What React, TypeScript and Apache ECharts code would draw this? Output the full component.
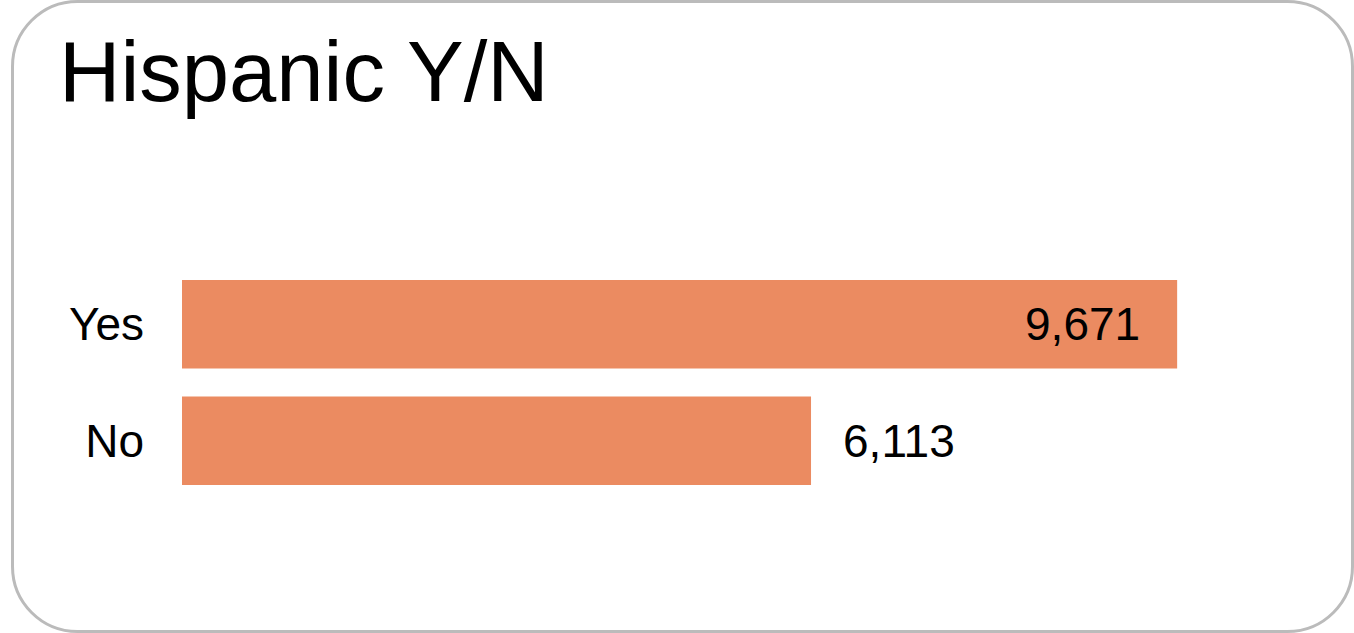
import React, { useEffect, useRef } from "react";
import * as echarts from "echarts";

const TITLE = "Hispanic Y/N";
const categories = ["Yes", "No"];
const values = [9671, 6113];
const labelInside = [true, false];

const FONT = "'Liberation Sans', Arial, Helvetica, sans-serif";
const BAR_COLOR = "#EB8B61";

export default function App() {
  const ref = useRef<HTMLDivElement>(null);
  useEffect(() => {
    if (!ref.current) return;
    const chart = echarts.init(ref.current, undefined, { renderer: "svg" });
    const fmt = (v: number) =>
      String(v).replace(/\B(?=(\d{3})+(?!\d))/g, ",");
    chart.setOption({
      animation: false,
      backgroundColor: "#ffffff",
      title: {
        text: TITLE,
        left: 59,
        top: 29,
        padding: 0,
        textStyle: {
          fontFamily: FONT,
          fontSize: 85,
          fontWeight: "normal",
          color: "#000000",
        },
      },
      graphic: [
        {
          type: "rect",
          shape: { x: 12.5, y: 1.5, width: 1340, height: 630, r: 65 },
          style: { fill: "none", stroke: "#BBBBBB", lineWidth: 3 },
          silent: true,
          z: 100,
        },
      ],
      grid: { left: 182, top: 266, width: 1029, height: 233, containLabel: false },
      xAxis: {
        type: "value",
        min: 0,
        max: 10000,
        show: false,
      },
      yAxis: {
        type: "category",
        data: categories,
        inverse: true,
        axisLine: { show: false },
        axisTick: { show: false },
        axisLabel: {
          margin: 38,
          fontFamily: FONT,
          fontSize: 46,
          color: "#000000",
        },
      },
      series: [
        {
          type: "bar",
          barCategoryGap: "24%",
          itemStyle: { color: BAR_COLOR },
          data: values.map((v, i) => ({
            value: v,
            label: {
              show: true,
              position: labelInside[i] ? "insideRight" : "right",
              distance: labelInside[i] ? 37 : 32,
              formatter: () => fmt(v),
              fontFamily: FONT,
              fontSize: 46,
              color: "#000000",
            },
          })),
        },
      ],
    });
    return () => chart.dispose();
  }, []);
  return (
    <div
      ref={ref}
      style={{ position: "absolute", left: 0, top: 0, width: 1354, height: 633 }}
    />
  );
}
